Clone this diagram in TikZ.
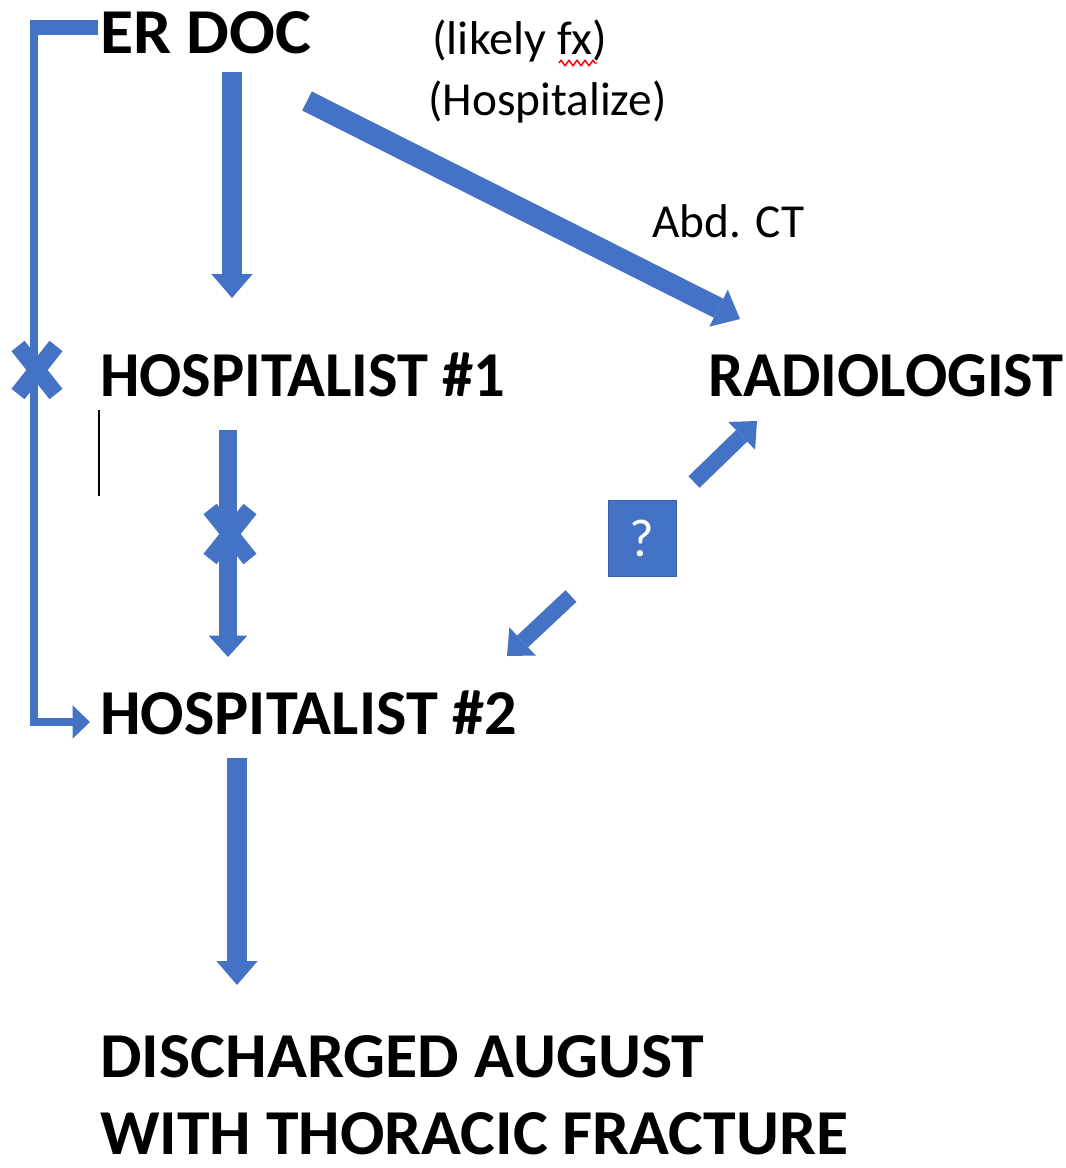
\documentclass[tikz,border=0pt]{standalone}
\usepackage{fontspec}
\setmainfont{Carlito}
\usetikzlibrary{arrows.meta,decorations.pathmorphing}
\definecolor{blk}{HTML}{4472C4}
\begin{document}
\begin{tikzpicture}[x=0.75pt,y=-0.75pt,
  big/.style={anchor=base west, inner sep=0pt, font=\fontsize{48}{58}\selectfont\bfseries},
  small/.style={anchor=base west, inner sep=0pt, font=\fontsize{35.5}{42}\selectfont},
  blockarrow/.style={draw=blk, line width=15pt, -{Triangle[width=31pt,length=18pt,line width=0pt]}},
  thinarrow/.style={draw=blk, line width=5.5pt, -{Triangle[width=25pt,length=13pt,line width=0pt]}},
  xarm/.style={draw=blk, line width=12.5pt},
  qbox/.style={fill=blk, draw=blk!85!black, line width=0.6pt, minimum width=51pt, minimum height=57pt, inner sep=0pt, text=white, font=\fontsize{40}{46}\selectfont}
]
\useasboundingbox (0,0) rectangle (1066,1168);

% texts
\node[big, xscale=1.06] (er) at (100,53) {ER DOC};
\node[big, xscale=0.976] (h1) at (100,396) {HOSPITALIST \#1};
\node[big, xscale=0.977] (rad) at (708,396) {RADIOLOGIST};
\node[big, xscale=1.005] (h2) at (100,734) {HOSPITALIST \#2};
\node[big, xscale=1.03] (dis) at (100,1077) {DISCHARGED AUGUST};
\node[big, xscale=1.027] (dis2) at (100,1154) {WITH THORACIC FRACTURE};
\node[small, xscale=1.02] (lfx) at (432,54) {(likely fx)};
\node[small] (hosp) at (428,115) {(Hospitalize)};
\node[small] (ct) at (652,237) {Abd. CT};
\node[qbox] (q) at (642,538) {?};

% spell-check squiggle
\draw[red, line width=1.1pt, decorate, decoration={zigzag, amplitude=2pt, segment length=6pt}] (559,63) -- (597,63);

% text cursor
\coordinate (cur1) at (99,410);
\coordinate (cur2) at (99,496);
\draw[black, line width=1.2pt] (cur1) -- (cur2);

% arrow coordinates
\coordinate (a1s) at (232,72);   \coordinate (a1e) at (232,298);
\coordinate (a2s) at (307,101);  \coordinate (a2e) at (740,319);
\coordinate (a3s) at (228,430);  \coordinate (a3e) at (228,657);
\coordinate (a4s) at (694,482);  \coordinate (a4e) at (757,421);
\coordinate (a5s) at (571,596);  \coordinate (a5e) at (507,656);
\coordinate (a6s) at (237,758);  \coordinate (a6e) at (237,985);

\draw[blockarrow] (a1s) -- (a1e);
\draw[blockarrow, line width=16pt] (a2s) -- (a2e);
\draw[blockarrow, line width=14pt, -{Triangle[width=29pt,length=16pt,line width=0pt]}] (a3s) -- (a3e);
\draw[blockarrow, line width=12pt, -{Triangle[width=29pt,length=16pt,line width=0pt]}] (a4s) -- (a4e);
\draw[blockarrow, line width=12pt, -{Triangle[width=29pt,length=16pt,line width=0pt]}] (a5s) -- (a5e);
\draw[blockarrow] (a6s) -- (a6e);

% left bracket connector
\coordinate (b0) at (98,27.5);
\coordinate (b1) at (30,27.5);
\coordinate (b2) at (34,21);
\coordinate (b3) at (34,722);
\coordinate (b4) at (90,722);
\draw[draw=blk, line width=11pt] (b0) -- (b1);
\draw[thinarrow] (b2) -- (b3) -- (b4);

% X marks
\coordinate (x1a) at (18,346); \coordinate (x1b) at (56,394);
\coordinate (x1c) at (56,346); \coordinate (x1d) at (18,394);
\draw[xarm] (x1a) -- (x1b);
\draw[xarm] (x1c) -- (x1d);
\coordinate (x2a) at (210,509); \coordinate (x2b) at (250,559);
\coordinate (x2c) at (250,509); \coordinate (x2d) at (210,559);
\draw[xarm] (x2a) -- (x2b);
\draw[xarm] (x2c) -- (x2d);
\end{tikzpicture}
\end{document}
